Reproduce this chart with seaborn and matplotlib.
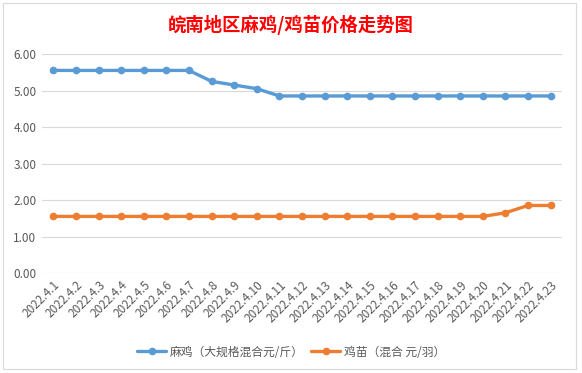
import matplotlib
matplotlib.use("Agg")
import matplotlib.pyplot as plt
import seaborn as sns
import pandas as pd
from matplotlib.patches import Rectangle

# data
dates = ['2022.4.%d' % d for d in range(1, 24)]
maji = [5.55, 5.55, 5.55, 5.55, 5.55, 5.55, 5.55, 5.25, 5.15, 5.05,
        4.85, 4.85, 4.85, 4.85, 4.85, 4.85, 4.85, 4.85, 4.85, 4.85,
        4.85, 4.85, 4.85]
jimiao = [1.55, 1.55, 1.55, 1.55, 1.55, 1.55, 1.55, 1.55, 1.55, 1.55,
          1.55, 1.55, 1.55, 1.55, 1.55, 1.55, 1.55, 1.55, 1.55, 1.55,
          1.65, 1.85, 1.85]
y_ticks = [0, 1, 2, 3, 4, 5, 6]
label_maji = '麻鸡（大规格混合元/斤）'
label_jimiao = '鸡苗（混合 元/羽）'
title = '皖南地区麻鸡/鸡苗价格走势图'

sns.set_theme(style="white")
plt.rcParams['font.family'] = ['Noto Sans CJK SC', 'DejaVu Sans']

df = pd.DataFrame({'date': dates, 'maji': maji, 'jimiao': jimiao})
df['pos'] = range(len(df))

fig = plt.figure(figsize=(5.82, 3.73), dpi=100)
fig.patch.set_facecolor('white')
ax = fig.add_axes([42 / 582, 100 / 373, 520 / 582, 219 / 373])

sns.lineplot(data=df, x='pos', y='maji', ax=ax, color='#5B9BD5', linewidth=2.4,
             marker='o', markersize=5.5, markeredgewidth=0, label=label_maji)
sns.lineplot(data=df, x='pos', y='jimiao', ax=ax, color='#ED7D31', linewidth=2.4,
             marker='o', markersize=5.5, markeredgewidth=0, label=label_jimiao)

ax.set_xlim(-0.5, len(dates) - 0.5)
ax.set_ylim(0, 6)
ax.set_yticks(y_ticks)
ax.set_yticklabels(['%.2f' % v for v in y_ticks], color='#595959', fontsize=8.5)
ax.set_xticks(df['pos'])
ax.set_xticklabels(dates, rotation=45, ha='right', rotation_mode='anchor',
                   color='#595959', fontsize=8.5)
ax.tick_params(axis='both', length=0, pad=4)
ax.set_xlabel('')
ax.set_ylabel('')
for s in ax.spines.values():
    s.set_visible(False)
ax.yaxis.grid(True, color='#D9D9D9', linewidth=0.8)
ax.set_axisbelow(True)

ax.legend(loc='center', bbox_to_anchor=(0.5, 21 / 373), bbox_transform=fig.transFigure,
          ncol=2, frameon=False, fontsize=8.5, handlelength=2.5, columnspacing=0.6,
          handletextpad=0.3, labelcolor='#595959')

fig.text(0.5, 1 - 25 / 373, title, ha='center', va='center', color='#FF0000',
         fontsize=13.2, fontweight='bold')

# chart area border
fig.patches.append(Rectangle((3 / 582, 4 / 373), 573 / 582, 366 / 373,
                             transform=fig.transFigure, fill=False,
                             edgecolor='#D9D9D9', linewidth=0.8))

fig.savefig('out.png', dpi=100)
